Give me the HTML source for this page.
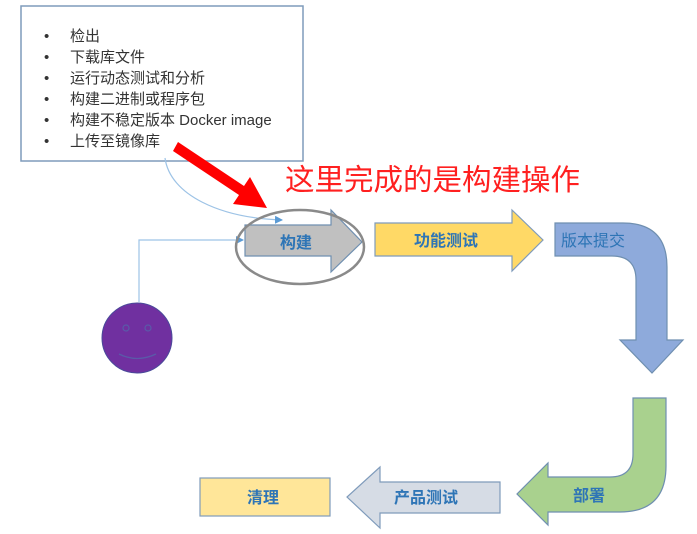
<!DOCTYPE html>
<html><head><meta charset="utf-8"><style>
body{margin:0;background:#fff;width:697px;height:534px;overflow:hidden;font-family:"Liberation Sans","Noto Sans CJK SC",sans-serif}
</style></head><body>
<svg width="697" height="534" viewBox="0 0 697 534" xmlns="http://www.w3.org/2000/svg" style="position:absolute;left:0;top:0">
<defs><marker id="m" markerWidth="8" markerHeight="8" refX="7" refY="4" orient="auto" markerUnits="userSpaceOnUse"><path d="M0,0 L8,4 L0,8z" fill="#5b9bd5"/></marker></defs>
<rect x="21" y="6" width="282" height="155" fill="#fff" stroke="#7f9bbb" stroke-width="1.5"/>
<g font-size="15" fill="#333" font-family="Liberation Sans,Noto Sans CJK SC,sans-serif">
<text x="44" y="41">•</text><text x="70" y="41">检出</text>
<text x="44" y="62">•</text><text x="70" y="62">下载库文件</text>
<text x="44" y="83">•</text><text x="70" y="83">运行动态测试和分析</text>
<text x="44" y="104">•</text><text x="70" y="104">构建二进制或程序包</text>
<text x="44" y="125">•</text><text x="70" y="125">构建不稳定版本 Docker image</text>
<text x="44" y="146">•</text><text x="70" y="146">上传至镜像库</text>
</g>
<path d="M165,158 C170,195 220,218 282,220" fill="none" stroke="#9dc3e6" stroke-width="1.2" marker-end="url(#m)"/>
<path d="M139,302 L139,240 L243,240" fill="none" stroke="#9dc3e6" stroke-width="1.2" marker-end="url(#m)"/>
<path d="M173,151 L178,142 L244,186 L250,177 L267,208 L233,204 L239,195 Z" fill="#ff0000"/>
<text x="285" y="190" font-size="29.5" fill="#ff2020" font-family="Liberation Sans,Noto Sans CJK SC,sans-serif">这里完成的是构建操作</text>
<path d="M245,225 L331,225 L331,210 L362,242 L331,272 L331,256 L245,256 Z" fill="#c0c0c0" stroke="#6f8fb0" stroke-width="1.2"/>
<ellipse cx="300" cy="247" rx="64" ry="37" fill="none" stroke="#8a8a8a" stroke-width="2.5"/>
<text x="280" y="248" font-size="16" font-weight="bold" fill="#2e75b6" font-family="Liberation Sans,Noto Sans CJK SC,sans-serif">构建</text>
<path d="M375,223 L512,223 L512,210 L543,240 L512,271 L512,256 L375,256 Z" fill="#ffd966" stroke="#7f9bbb" stroke-width="1.2"/>
<text x="414" y="246" font-size="16" font-weight="bold" fill="#2e75b6" font-family="Liberation Sans,Noto Sans CJK SC,sans-serif">功能测试</text>
<path d="M555,223 L623,223 Q667,223 667,267 L667,340 L683,340 L652,373 L620,340 L636,340 L636,280 Q636,256 612,256 L555,256 Z" fill="#8eaadb" stroke="#6f8fb0" stroke-width="1.2"/>
<text x="561" y="246" font-size="16" fill="#2e75b6" font-family="Liberation Sans,Noto Sans CJK SC,sans-serif">版本提交</text>
<path d="M633,398 L666,398 L666,466 Q666,512 620,512 L548,512 L548,525 L517,494 L548,463 L548,477 L610,477 Q633,477 633,454 Z" fill="#a9d18e" stroke="#6f8fb0" stroke-width="1.2"/>
<text x="573" y="501" font-size="16" font-weight="bold" fill="#2e75b6" font-family="Liberation Sans,Noto Sans CJK SC,sans-serif">部署</text>
<path d="M500,482 L380,482 L380,467 L347,497 L380,528 L380,513 L500,513 Z" fill="#d6dce5" stroke="#7f9bbb" stroke-width="1.2"/>
<text x="394" y="503" font-size="16" font-weight="bold" fill="#2e75b6" font-family="Liberation Sans,Noto Sans CJK SC,sans-serif">产品测试</text>
<rect x="200" y="478" width="130" height="38" fill="#ffe699" stroke="#7f9bbb" stroke-width="1.2"/>
<text x="247" y="503" font-size="16" font-weight="bold" fill="#2e75b6" font-family="Liberation Sans,Noto Sans CJK SC,sans-serif">清理</text>
<circle cx="137" cy="338" r="35" fill="#7030a0" stroke="#4a4a9a" stroke-width="1"/>
<circle cx="126" cy="328" r="3" fill="none" stroke="#5a5aa8" stroke-width="1.2"/>
<circle cx="148" cy="328" r="3" fill="none" stroke="#5a5aa8" stroke-width="1.2"/>
<path d="M119,354 Q137,363 156,354" fill="none" stroke="#5a5aa8" stroke-width="1.3"/>
</svg>
</body></html>
